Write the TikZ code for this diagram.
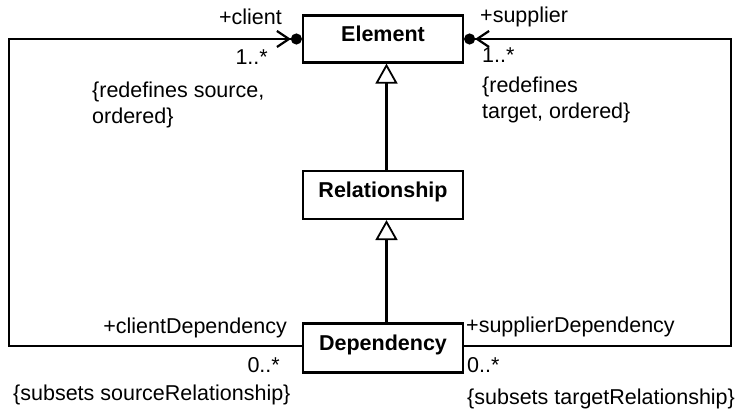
\documentclass[tikz,border=0pt]{standalone}
\usepackage{fontspec}
\setmainfont{Liberation Sans}
\usetikzlibrary{arrows.meta}
\begin{document}
\begin{tikzpicture}[x=1pt,y=1pt,
  every node/.style={font=\fontsize{21.5}{26}\selectfont, inner sep=0pt},
  cls/.style={draw, line width=2.2pt, minimum width=160pt,
    font=\fontsize{21.5}{26}\selectfont\bfseries, text height=15.3pt, text depth=10pt},
  assoc/.style={line width=2.2pt,
    -{Straight Barb[length=12pt,width=16pt,line width=2.2pt] Circle[length=11pt]}},
  gen/.style={line width=2.2pt, -{Triangle[open,length=20pt,width=22pt,line width=1.8pt]}},
]
\useasboundingbox (0,0) rectangle (745,414);

\node[cls, minimum height=47pt] (Element) at (383,375) {Element};
\node[cls, minimum height=48pt] (Relationship) at (383,219) {Relationship};
\node[cls, minimum height=49pt] (Dependency) at (383,66) {Dependency};

\coordinate (lb) at (9,68);
\coordinate (lt) at (9,375);
\coordinate (rb) at (731,68);
\coordinate (rt) at (731,375);

\draw[assoc] ([yshift=2pt]Dependency.west) -- (lb) -- (lt) -- (Element.west);
\draw[assoc] ([yshift=2pt]Dependency.east) -- (rb) -- (rt) -- (Element.east);

\draw[gen] ([xshift=3.5pt]Relationship.north) -- ([xshift=3.5pt]Element.south);
\draw[gen] ([xshift=3.5pt]Dependency.north) -- ([xshift=3.5pt]Relationship.south);

\node[anchor=base east] (lc) at (282,389) {+client};
\node[anchor=base east] (lcm) at (268,349) {1..*};
\node[anchor=north west, align=left] (lcr) at (92,332) {\{redefines source,\\ordered\}};
\node[anchor=base west] (ls) at (480,391) {+supplier};
\node[anchor=base west] (lsm) at (482,351) {1..*};
\node[anchor=north west, align=left] (lsr) at (482,337) {\{redefines\\target, ordered\}};
\node[anchor=base east] (lcd) at (287,80) {+clientDependency};
\node[anchor=base east] (lcdm) at (280,41) {0..*};
\node[anchor=base west] (lcdr) at (13,13) {\{subsets sourceRelationship\}};
\node[anchor=base west] (lsd) at (466,81) {+supplierDependency};
\node[anchor=base west] (lsdm) at (467,41) {0..*};
\node[anchor=base west] (lsdr) at (467,9) {\{subsets targetRelationship\}};
\end{tikzpicture}
\end{document}
